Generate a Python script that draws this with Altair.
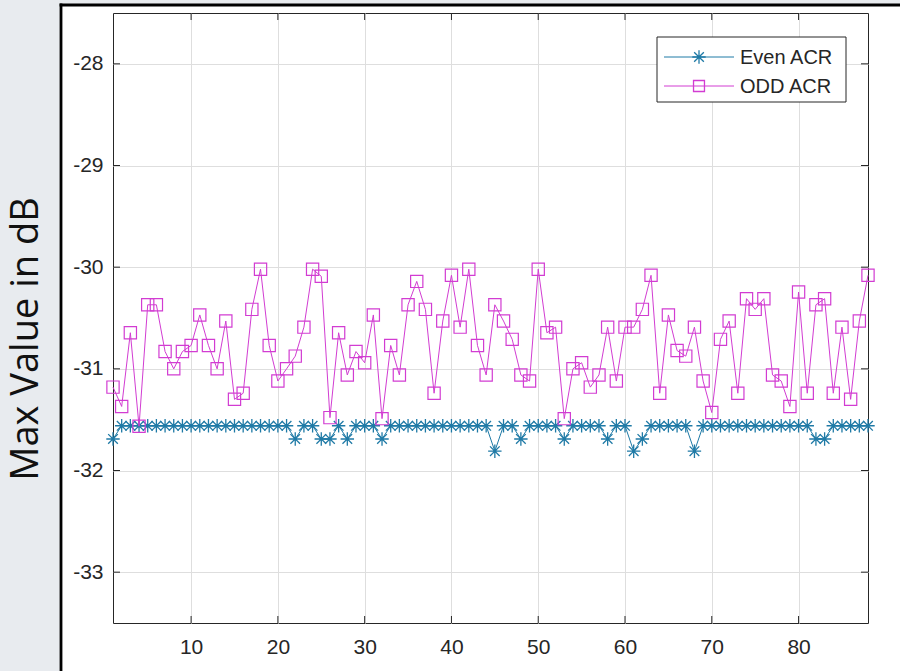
import altair as alt
import pandas as pd

# ---------------- data ----------------
x_index = list(range(1, 89))

even_acr = [
    -31.69,
    -31.56, -31.56, -31.56, -31.56, -31.56, -31.56, -31.56, -31.56, -31.56, -31.56,
    -31.56, -31.56, -31.56, -31.56, -31.56, -31.56, -31.56, -31.56, -31.56, -31.56,
    -31.69, -31.56, -31.56, -31.69, -31.69, -31.56, -31.69, -31.56, -31.56, -31.56,
    -31.69, -31.56, -31.56, -31.56, -31.56, -31.56, -31.56, -31.56, -31.56, -31.56,
    -31.56, -31.56, -31.56, -31.81, -31.56, -31.56, -31.69, -31.56, -31.56, -31.56,
    -31.56, -31.69, -31.56, -31.56, -31.56, -31.56, -31.69, -31.56, -31.56, -31.81,
    -31.69, -31.56, -31.56, -31.56, -31.56, -31.56, -31.81, -31.56, -31.56, -31.56,
    -31.56, -31.56, -31.56, -31.56, -31.56, -31.56, -31.56, -31.56, -31.56, -31.56,
    -31.69, -31.69, -31.56, -31.56, -31.56, -31.56, -31.56,
]

odd_acr = [
    -31.18, -31.37, -30.645, -31.565, -30.37, -30.37, -30.83, -31.00, -30.83, -30.77,
    -30.47, -30.77, -31.00, -30.53, -31.30, -31.24, -30.415, -30.02, -30.77, -31.12,
    -31.00, -30.875, -30.59, -30.02, -30.09, -31.48, -30.645, -31.06, -30.83, -30.94,
    -30.47, -31.49, -30.77, -31.06, -30.37, -30.14, -30.415, -31.24, -30.53, -30.08,
    -30.59, -30.02, -30.77, -31.06, -30.37, -30.53, -30.71, -31.06, -31.12, -30.02,
    -30.645, -30.59, -31.49, -31.00, -30.94, -31.18, -31.06, -30.59, -31.12, -30.59,
    -30.59, -30.415, -30.08, -31.24, -30.47, -30.82, -30.875, -30.59, -31.12, -31.43,
    -30.71, -30.53, -31.24, -30.31, -30.415, -30.31, -31.06, -31.12, -31.37, -30.245,
    -31.24, -30.37, -30.31, -31.24, -30.59, -31.30, -30.53, -30.08,
]

series_names = ["Even ACR", "ODD ACR"]
series_colors = ["#1f7aa6", "#d23cd2"]
y_ticks = [-33, -32, -31, -30, -29, -28]
x_ticks = [10, 20, 30, 40, 50, 60, 70, 80]
y_title = "Max Value in dB"

# ---------------- layout ----------------
W, H = 755, 610
PAD_L, PAD_T = 113, 13
TXT = "#262626"
STAR = "M-1,0H1M0,-1V1M-0.72,-0.72L0.72,0.72M-0.72,0.72L0.72,-0.72"
SQUARE = "M-1,-1H1V1H-1Z"

df = pd.DataFrame({"x": x_index, "even": even_acr, "odd": odd_acr})
one = pd.DataFrame({"k": [0]})
yt = pd.DataFrame({"v": y_ticks})
xt = pd.DataFrame({"v": x_ticks})

xs = alt.Scale(domain=[1, 88], nice=False, zero=False)
ys = alt.Scale(domain=[-33.5, -27.5], nice=False, zero=False)

x_axis = alt.Axis(
    values=x_ticks, title=None, ticks=False, domain=False, grid=True,
    gridColor="#dedede", gridWidth=1, labelFont="Liberation Sans",
    labelFontSize=21, labelColor=TXT, labelPadding=13)
y_axis = alt.Axis(
    values=y_ticks, title=None, ticks=False, domain=False, grid=True,
    gridColor="#dedede", gridWidth=1, labelFont="Liberation Sans",
    labelFontSize=21, labelColor=TXT, labelPadding=10,
    labelExpr="replace(datum.label, '\u2212', '-')")


def xenc(field):
    return alt.X(f"{field}:Q", scale=xs, axis=x_axis, title=None)


def yenc(field):
    return alt.Y(f"{field}:Q", scale=ys, axis=y_axis, title=None)


base = alt.Chart(df)

# background pieces outside the panel
gray = "#e8ebef"
strip_left = alt.Chart(one).mark_rect(color=gray).encode(
    x=alt.value(-PAD_L), x2=alt.value(-52), y=alt.value(-PAD_T), y2=alt.value(H + 60))
strip_top = alt.Chart(one).mark_rect(color=gray).encode(
    x=alt.value(-PAD_L), x2=alt.value(W + 60), y=alt.value(-PAD_T), y2=alt.value(-8))
border_v = alt.Chart(one).mark_rule(color="#000000", strokeWidth=2.8).encode(
    x=alt.value(-52), y=alt.value(-9.4), y2=alt.value(H + 60))
border_h = alt.Chart(one).mark_rule(color="#000000", strokeWidth=2.8).encode(
    y=alt.value(-8), x=alt.value(-53.4), x2=alt.value(W + 60))

title_txt = alt.Chart(one).mark_text(
    text=y_title, angle=270, font="Open Sans", fontSize=38, color="#111111",
    align="center", baseline="alphabetic").encode(
    x=alt.value(-75), y=alt.value(326))

# inward ticks (MATLAB style)
tick_len = 7
yt_l = alt.Chart(yt).mark_rule(color=TXT, strokeWidth=1).encode(
    y=yenc("v"), x=alt.value(0), x2=alt.value(tick_len))
yt_r = alt.Chart(yt).mark_rule(color=TXT, strokeWidth=1).encode(
    y=yenc("v"), x=alt.value(W - tick_len), x2=alt.value(W))
xt_b = alt.Chart(xt).mark_rule(color=TXT, strokeWidth=1).encode(
    x=xenc("v"), y=alt.value(H - tick_len), y2=alt.value(H))
xt_t = alt.Chart(xt).mark_rule(color=TXT, strokeWidth=1).encode(
    x=xenc("v"), y=alt.value(0), y2=alt.value(tick_len))

even_line = base.mark_line(color=series_colors[0], strokeWidth=1).encode(
    x=xenc("x"), y=yenc("even"))
even_pts = base.mark_point(shape=STAR, filled=False, size=180, strokeWidth=1.3,
                           color=series_colors[0], opacity=1).encode(
    x=xenc("x"), y=yenc("even"))
odd_line = base.mark_line(color=series_colors[1], strokeWidth=1).encode(
    x=xenc("x"), y=yenc("odd"))
odd_pts = base.mark_point(shape=SQUARE, filled=False, size=150, strokeWidth=1.2,
                          color=series_colors[1], opacity=1).encode(
    x=xenc("x"), y=yenc("odd"))

# legend (manual, MATLAB style)
lg_x0, lg_x1, lg_y0, lg_y1 = 544, 733, 24, 89
legend_box = alt.Chart(one).mark_rect(fill="white", stroke=TXT, strokeWidth=1).encode(
    x=alt.value(lg_x0), x2=alt.value(lg_x1), y=alt.value(lg_y0), y2=alt.value(lg_y1))
legend_layers = [legend_box]
row_y = [44, 73]
shapes = [STAR, SQUARE]
for name, col, ry, shp in zip(series_names, series_colors, row_y, shapes):
    legend_layers.append(alt.Chart(one).mark_rule(color=col, strokeWidth=1).encode(
        x=alt.value(551), x2=alt.value(621), y=alt.value(ry)))
    legend_layers.append(alt.Chart(one).mark_point(
        shape=shp, filled=False, size=180 if shp == STAR else 120, strokeWidth=1.3,
        color=col, opacity=1).encode(x=alt.value(586), y=alt.value(ry)))
    legend_layers.append(alt.Chart(one).mark_text(
        text=name, font="Liberation Sans", fontSize=20, color=TXT,
        align="left", baseline="middle").encode(x=alt.value(627), y=alt.value(ry + 1)))

chart = alt.layer(
    strip_left, strip_top, border_v, border_h, title_txt,
    even_line, even_pts, odd_line, odd_pts,
    yt_l, yt_r, xt_b, xt_t,
    *legend_layers,
).properties(
    width=W, height=H,
    autosize=alt.AutoSizeParams(type="none"),
    padding={"left": PAD_L, "top": PAD_T, "right": 900 - PAD_L - W, "bottom": 671 - PAD_T - H},
    background="white",
).configure_view(
    stroke=TXT, strokeWidth=1, fill="white"
)

chart.save("out.html", embed_options={"renderer": "svg", "actions": False})
